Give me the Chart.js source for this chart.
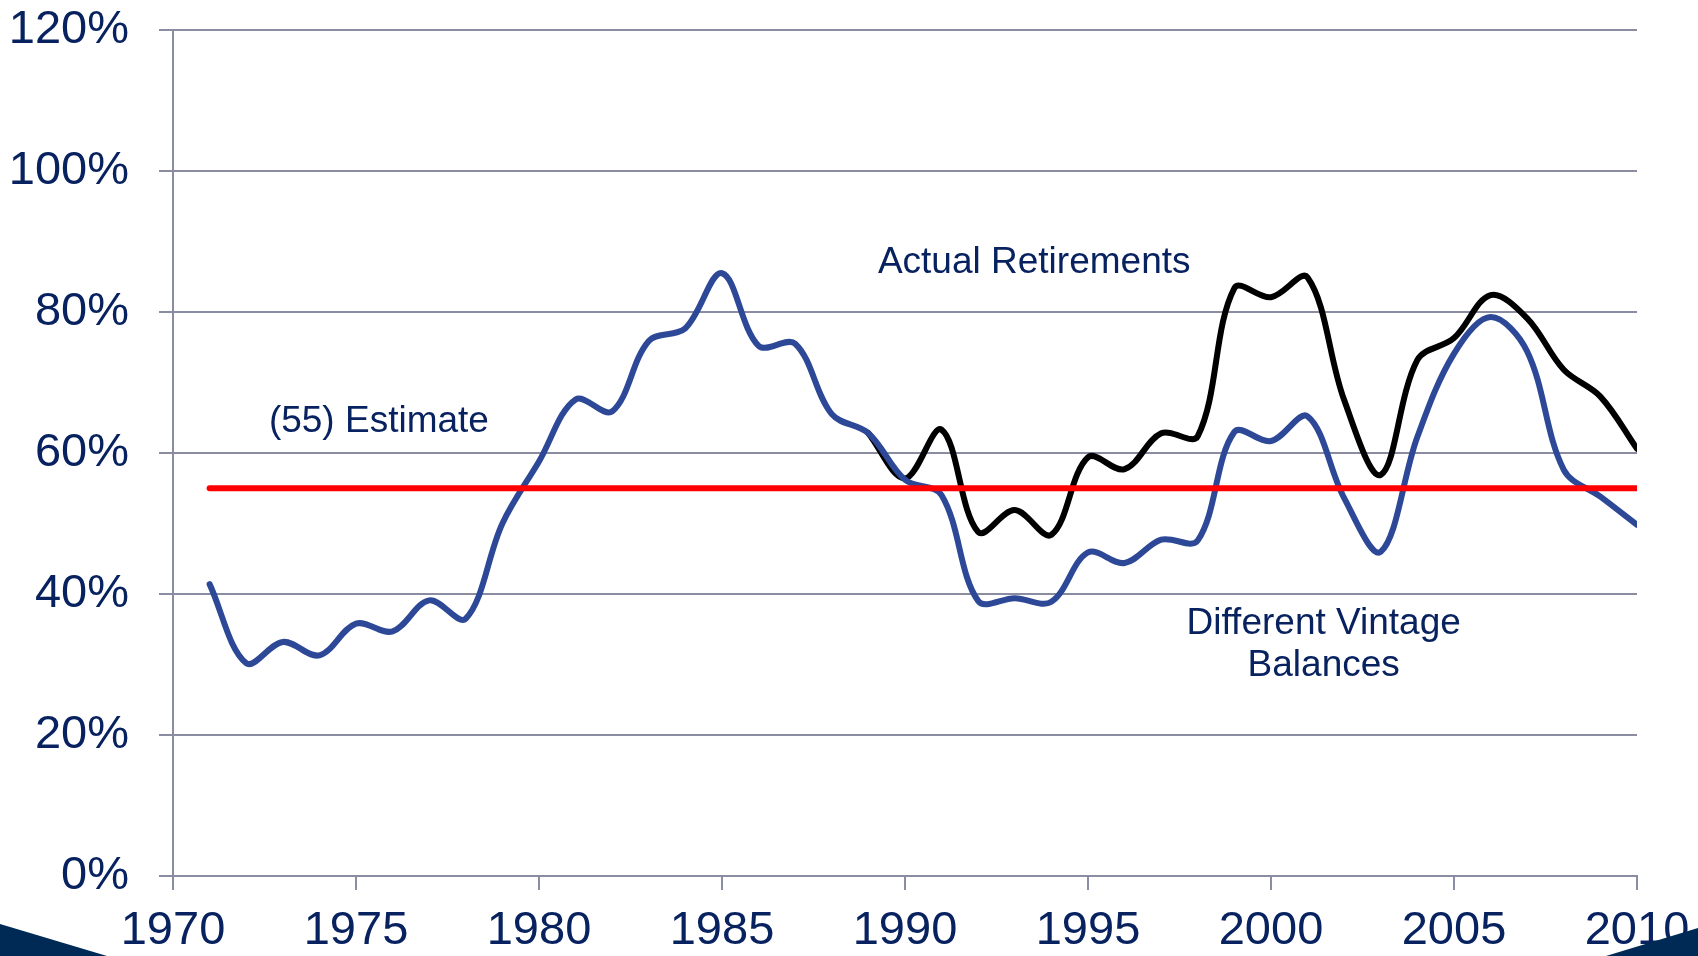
<!DOCTYPE html>
<html>
<head>
<meta charset="utf-8">
<title>Actual Retirements vs Different Vintage Balances</title>
<script src="https://cdn.jsdelivr.net/npm/chart.js@4.4.0/dist/chart.umd.min.js"></script>
<style>
  html,body{margin:0;padding:0;background:#fff;overflow:hidden;}
  #wrap{position:relative;width:1698px;height:956px;}
  .corner{position:absolute;bottom:0;background:#002a56;}
  #cornerL{left:0;width:107px;height:32px;clip-path:polygon(0 0,100% 100%,0 100%);}
  #cornerR{right:0;width:92px;height:28px;clip-path:polygon(100% 0,100% 100%,0 100%);}
</style>
</head>
<body>
<div id="wrap">
  <canvas id="retireChart" width="1698" height="956"></canvas>
  <div class="corner" id="cornerL"></div>
  <div class="corner" id="cornerR"></div>
</div>
<script>
// --- Data ---
const years = [1971,1972,1973,1974,1975,1976,1977,1978,1979,1980,
               1981,1982,1983,1984,1985,1986,1987,1988,1989,1990,
               1991,1992,1993,1994,1995,1996,1997,1998,1999,2000,
               2001,2002,2003,2004,2005,2006,2007,2008,2009,2010];
const vintageBalances = [41.4,30.2,33.2,31.3,35.8,34.7,39.1,36.5,50.0,58.8,
                         67.6,65.9,75.9,77.7,85.5,75.2,75.5,65.5,62.8,56.2,
                         54.0,39.0,39.4,38.9,45.9,44.4,47.7,47.6,63.0,61.7,
                         65.2,53.6,46.0,62.3,74.1,79.3,74.4,57.6,53.8,49.8];
const retireYears = [1989,1990,1991,1992,1993,1994,1995,1996,1997,1998,1999,
                     2000,2001,2002,2003,2004,2005,2006,2007,2008,2009,2010];
const actualRetirements = [62.8,56.4,63.3,48.8,51.9,48.4,59.4,57.7,62.8,62.4,83.4,
                           82.1,84.9,67.5,56.9,73.2,76.3,82.4,79.1,71.8,68.0,60.6];
const estimateYears = [1971, 2010];
const estimateValues = [55, 55];
const xRange = [1970, 2010], xStep = 5;
const yRange = [0, 120], yStep = 20;

// --- Styling ---
const FONT = "Arial, 'Liberation Sans', sans-serif";
const NAVY = '#082260';
const GRID = '#8a8da1';

// text notes placed in data units
const notes = [
  {text:'(55) Estimate',      x:1972.62, y:63.0, align:'left'},
  {text:'Actual Retirements', x:1989.26, y:85.6, align:'left'},
  {text:'Different Vintage',  x:2001.44, y:34.3, align:'center'},
  {text:'Balances',           x:2001.44, y:28.3, align:'center'}
];

const toPts = (xs, ys) => xs.map((x,i)=>({x, y:ys[i]}));

const notesPlugin = {
  id:'notes',
  afterDatasetsDraw(chart){
    const {ctx, scales:{x, y}} = chart;
    ctx.save();
    ctx.font = '37px ' + FONT;
    ctx.fillStyle = NAVY;
    ctx.textBaseline = 'alphabetic';
    notes.forEach(n=>{
      ctx.textAlign = n.align;
      ctx.fillText(n.text, x.getPixelForValue(n.x), y.getPixelForValue(n.y));
    });
    ctx.restore();
  }
};

const lineStyle = {pointRadius:0, borderWidth:6, tension:0.35, borderCapStyle:'round', borderJoinStyle:'round', fill:false};

new Chart(document.getElementById('retireChart'), {
  type:'line',
  data:{
    datasets:[
      {label:'(55) Estimate', data:toPts(estimateYears, estimateValues), borderColor:'#ff0000', order:1, ...lineStyle, tension:0},
      {label:'Different Vintage Balances', data:toPts(years, vintageBalances), borderColor:'#2d4896', order:2, ...lineStyle},
      {label:'Actual Retirements', data:toPts(retireYears, actualRetirements), borderColor:'#000000', order:3, ...lineStyle}
    ]
  },
  options:{
    responsive:false,
    animation:false,
    layout:{padding:{top:30, right:61, left:0, bottom:0}},
    plugins:{legend:{display:false}, tooltip:{enabled:false}},
    scales:{
      x:{
        type:'linear', min:xRange[0], max:xRange[1],
        // fixed axis height, and no extra room for the end labels
        afterFit: s => { s.height = 80; s.paddingLeft = 0; s.paddingRight = 0; },
        ticks:{stepSize:xStep, autoSkip:false, maxRotation:0, padding:13,
               color:NAVY, font:{size:47, family:FONT}, callback:v=>String(v)},
        grid:{drawOnChartArea:false, drawTicks:true, tickLength:14, color:GRID, lineWidth:2},
        border:{display:true, color:GRID, width:2}
      },
      y:{
        min:yRange[0], max:yRange[1],
        // tick padding would otherwise push the plot top down
        afterFit: s => { s.width = 173; s.paddingTop = 0; s.paddingBottom = 0; },
        ticks:{stepSize:yStep, padding:30, color:NAVY, font:{size:47, family:FONT}, callback:v=>v+'%'},
        grid:{color:GRID, lineWidth:2, tickLength:14},
        border:{display:true, color:GRID, width:2}
      }
    }
  },
  plugins:[notesPlugin]
});
</script>
</body>
</html>
